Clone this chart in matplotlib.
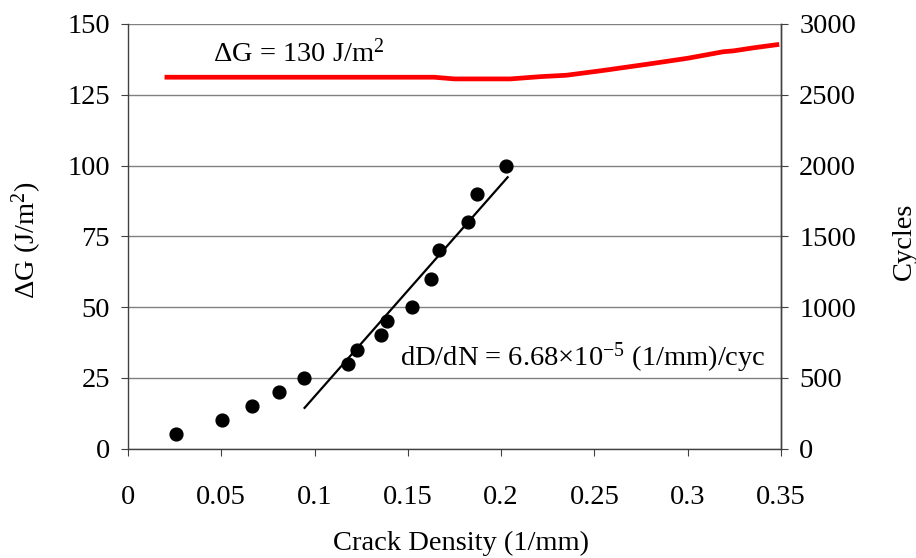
import matplotlib
matplotlib.use('Agg')
import matplotlib.pyplot as plt

plt.rcParams['font.family'] = ['Liberation Serif', 'DejaVu Serif']
plt.rcParams['mathtext.fontset'] = 'custom'
plt.rcParams['mathtext.rm'] = 'Liberation Serif'
plt.rcParams['mathtext.it'] = 'Liberation Serif:italic'

# energy release rate range vs crack density (left axis)
dg_density = [0.0196, 0.164, 0.175, 0.205, 0.221, 0.235, 0.2537, 0.2784,
              0.300, 0.319, 0.3244, 0.3354, 0.349]
dg_values = [131.2, 131.2, 130.6, 130.6, 131.4, 131.9, 133.5, 135.8,
             137.9, 140.2, 140.5, 141.6, 142.8]

# cycles vs crack density (right axis)
cyc_density = [0.0257, 0.0505, 0.0664, 0.0807, 0.0942, 0.1181, 0.123, 0.1356,
               0.1388, 0.1524, 0.1622, 0.1669, 0.182, 0.1868, 0.2025]
cycles = [100, 200, 300, 400, 500, 600, 700, 800,
          900, 1000, 1200, 1400, 1600, 1800, 2000]

# linear fit D = d0 + rate * N over the steady part
fit_rate = 6.68e-5
fit_d0 = 0.0754
fit_cycles = [288, 1917]

x_ticks = [0, 0.05, 0.1, 0.15, 0.2, 0.25, 0.3, 0.35]
x_tick_labels = ['0', '0.05', '0.1', '0.15', '0.2', '0.25', '0.3', '0.35']
dg_ticks = [0, 25, 50, 75, 100, 125, 150]
cyc_ticks = [0, 500, 1000, 1500, 2000, 2500, 3000]

FS = 20.5

fig = plt.figure(figsize=(9.16, 5.58), dpi=100)
ax = fig.add_axes([0.1397, 0.196, 0.713, 0.761])
ax2 = ax.twinx()

ax.plot(dg_density, dg_values, color='#ff0000', lw=3.4, solid_capstyle='butt')
ax2.scatter(cyc_density, cycles, s=85, color='black', zorder=3)
fit_x = [fit_d0 + fit_rate * n for n in fit_cycles]
ax2.plot(fit_x, fit_cycles, color='black', lw=1.6)

ax.set_xlim(0, 0.35)
ax.set_ylim(0, 150)
ax2.set_ylim(0, 3000)
ax.set_xticks(x_ticks)
ax.set_xticklabels(x_tick_labels)
ax.set_yticks(dg_ticks)
ax2.set_yticks(cyc_ticks)

ax.yaxis.grid(True, color='#808080', lw=1.0)
ax.set_axisbelow(True)

for a in (ax, ax2):
    a.spines['top'].set_visible(False)
    for s in ('left', 'right', 'bottom'):
        a.spines[s].set_color('#404040')
        a.spines[s].set_linewidth(1.0)
ax2.spines['left'].set_visible(False)
ax2.spines['bottom'].set_visible(False)

ax.tick_params(axis='x', direction='out', length=5, pad=21, labelsize=FS,
               color='#404040')
ax.tick_params(axis='y', direction='out', length=5, pad=8, labelsize=FS,
               color='#404040')
ax2.tick_params(axis='y', direction='out', length=5, pad=8, labelsize=FS,
                color='#404040')

ax.set_xlabel('Crack Density (1/mm)', fontsize=FS)
ax.xaxis.set_label_coords(0.51, -0.194)
ax.set_ylabel(r'$\Delta$G (J/m$^2$)', fontsize=FS)
ax.yaxis.set_label_coords(-0.128, 0.49)
ax2.set_ylabel('Cycles', fontsize=FS)
ax2.yaxis.set_label_coords(1.170, 0.489)

ax.text(0.0455, 136.7, r'$\Delta$G = 130 J/m$^2$', fontsize=FS, va='baseline')
ax.text(0.1456, 29.5, r'dD/dN = 6.68$\times$10$^{-5}$ (1/mm)/cyc',
        fontsize=FS, va='baseline')

fig.savefig('out.png', dpi=100)
